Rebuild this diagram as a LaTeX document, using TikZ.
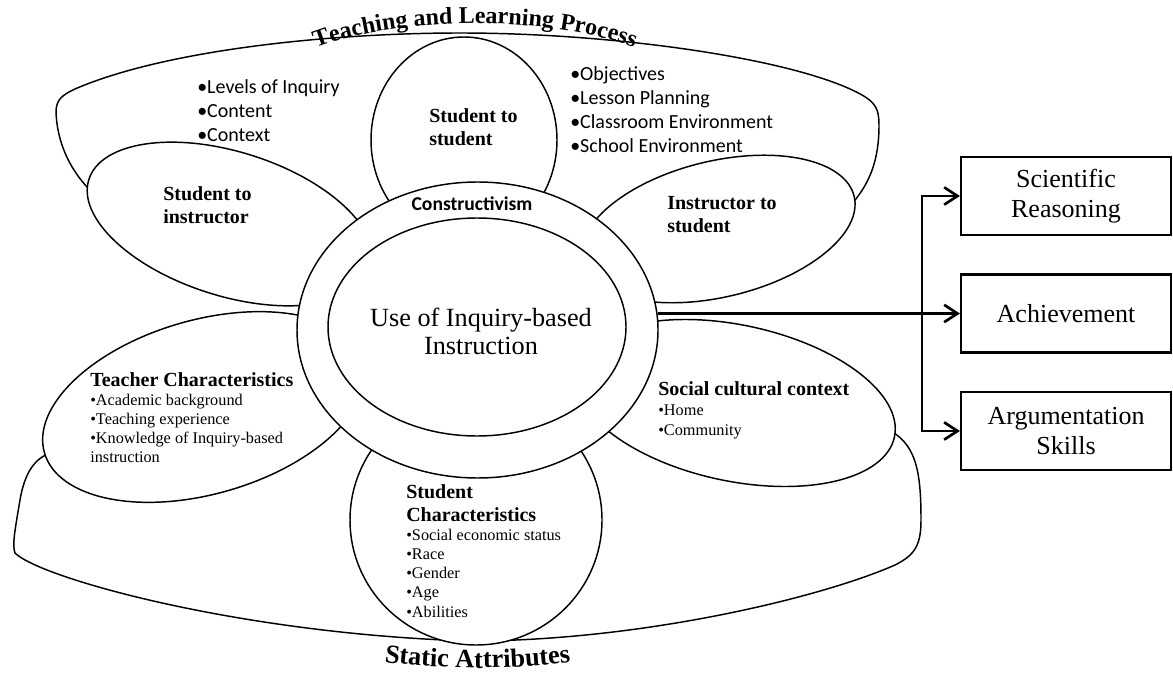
\documentclass[tikz,border=0pt]{standalone}
\usepackage{fontspec}
\setmainfont{Liberation Serif}
\setsansfont{Carlito}
\usetikzlibrary{shapes.geometric,arrows.meta,decorations.text}

\begin{document}
\begin{tikzpicture}[x=0.75pt,y=-0.75pt,
  rim/.style={draw=black, line width=1.1pt},
  petal/.style={draw=black, fill=white, line width=1.1pt},
  ring/.style={ellipse, draw=black, fill=white, line width=1.1pt, outer sep=0pt},
  outbox/.style={draw=black, line width=1.6pt, minimum width=157.5pt, minimum height=58.5pt, align=center, font=\fontsize{19.5}{22.5}\selectfont},
  flow/.style={line width=2pt, -{Straight Barb[length=10pt,width=13pt]}},
  lbl/.style={font=\bfseries\fontsize{15}{17.25}\selectfont, align=left},
  item/.style={font=\fontsize{12.2}{14.4}\selectfont, align=left},
  bullets/.style={font=\sffamily\fontsize{15}{18}\selectfont, align=left}]
\tikzstyle{every node}+=[inner sep=0pt]
\useasboundingbox (0,0) rectangle (1173,673);

% backdrops
\draw [rim] (95,195) .. controls (68,170) and (57,140) .. (56,112) .. controls (56,100) and (62,95) .. (75,89) .. controls (165,50) and (330,33) .. (460,33) .. controls (620,33) and (800,60) .. (862,95) .. controls (876,103) and (879,110) .. (879,125) .. controls (879,160) and (870,185) .. (848,208);
\draw [rim] (60,452) .. controls (38,452) and (25,470) .. (20,500) .. controls (15,530) and (12,545) .. (15,553) .. controls (40,578) and (240,634) .. (470,641) .. controls (640,641) and (820,598) .. (895,565) .. controls (915,555) and (921,545) .. (921,520) .. controls (921,470) and (916,442) .. (885,428);

% petals
\draw [petal] (464,140) ellipse [x radius=93, y radius=103];
\draw [petal, rotate around={-17.5:(230,224)}] (230,224) ellipse [x radius=148, y radius=72];
\draw [petal, rotate around={13.5:(718,229)}] (718,229) ellipse [x radius=140, y radius=68];
\draw [petal, rotate around={16:(204,407)}] (204,407) ellipse [x radius=166, y radius=87];
\draw [petal, rotate around={-12:(735,403)}] (735,403) ellipse [x radius=163, y radius=78];
\draw [petal] (476,520) ellipse [x radius=126, y radius=125];

% centre
\node (core) [ring, minimum width=270.75pt, minimum height=222pt] at (477.5,330) {};
\node (hub) [ring, minimum width=223.5pt, minimum height=163.5pt] at (477,327) {};
\node (usetxt) [align=center, font=\fontsize{19.7}{21}\selectfont] at (481,331) {Use of Inquiry-based\\Instruction};
\node (cons) [font=\sffamily\bfseries\fontsize{14.7}{17}\selectfont, anchor=base] at (472,211) {Constructivism};

% outcomes
\node (sr) [outbox] at (1066,196) {Scientific\\Reasoning};
\node (ach) [outbox] at (1066,313.5) {Achievement};
\node (arg) [outbox] at (1066,431) {Argumentation\\Skills};
\coordinate (fork) at (922,313.5);
\draw [flow] (core.east |- ach.west) -- (ach.west);
\draw [flow] (fork) |- (sr.west);
\draw [flow] (fork) |- (arg.west);

% labels (base = last line)
\node (s2sT) [lbl, anchor=base west] at (429,146) {Student to\\student};
\node (s2iT) [lbl, anchor=base west] at (163,224) {Student to\\instructor};
\node (i2sT) [lbl, anchor=base west] at (667,233) {Instructor to\\student};
\node (tchT) [lbl, anchor=base west] at (90,386) {Teacher Characteristics};
\node (tchL) [item, anchor=base west] at (90,462.6) {•Academic background\\•Teaching experience\\•Knowledge of Inquiry-based\\instruction};
\node (socT) [lbl, anchor=base west] at (658,395) {Social cultural context};
\node (socL) [item, anchor=base west] at (658,435) {•Home\\•Community};
\node (scT) [lbl, anchor=base west] at (406,521) {Student\\Characteristics};
\node (scL) [item, anchor=base west] at (406,617) {•Social economic status\\•Race\\•Gender\\•Age\\•Abilities};
\node (tlpL) [bullets, anchor=base west] at (197,142) {•Levels of Inquiry\\•Content\\•Context};
\node (tlpR) [bullets, anchor=base west] at (570,153) {•Objectives\\•Lesson Planning\\•Classroom Environment\\•School Environment};

% titles
\path [decorate, decoration={text along path, text align=center, text={|\bfseries\fontsize{18}{20}\selectfont|Teaching and Learning Process}}] (305,52) .. controls (390,14) and (560,14) .. (645,52);
\path [decorate, decoration={text along path, text align=center, text={|\bfseries\fontsize{19.8}{22}\selectfont|Static Attributes}}] (365,659) .. controls (430,671) and (525,671) .. (590,659);
\end{tikzpicture}
\end{document}
